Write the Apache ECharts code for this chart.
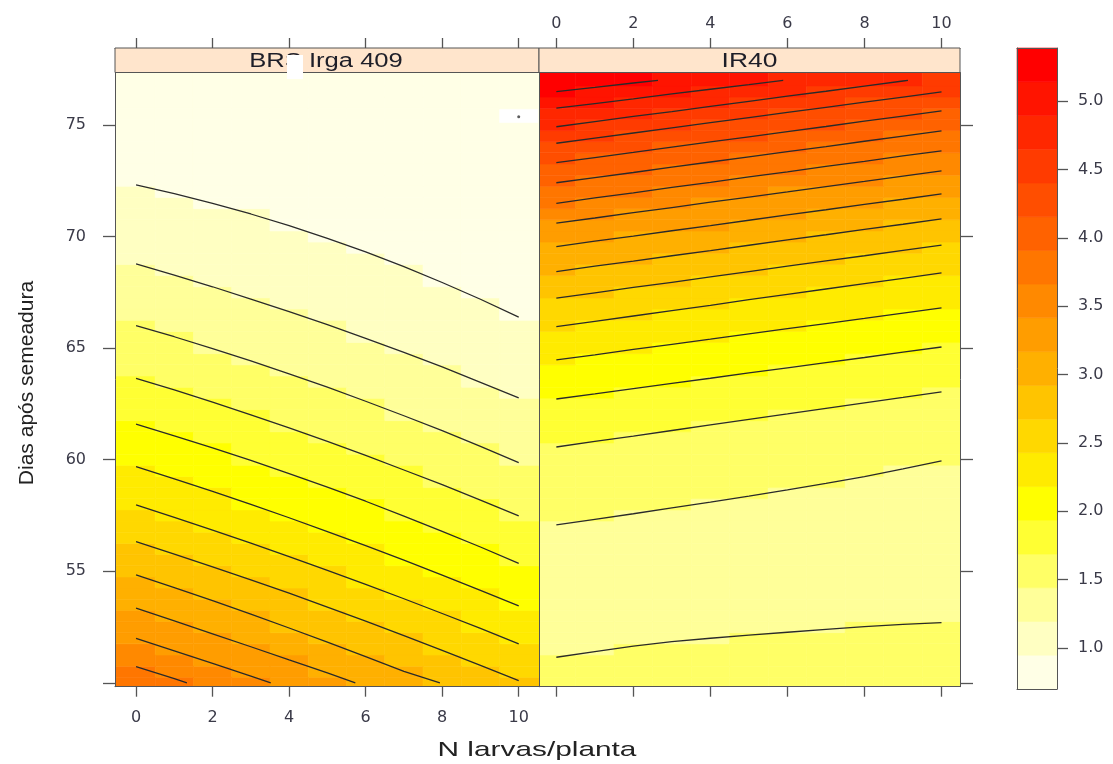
<!DOCTYPE html>
<html><head><meta charset="utf-8">
<script src="https://cdn.jsdelivr.net/npm/echarts@6/dist/echarts.min.js"></script>
<style>html,body{margin:0;padding:0;background:#fff}#c{width:1113px;height:764px}</style>
</head><body><div id="c"></div>
<script>
// ---------------- data ----------------
const panels = ['BRS Irga 409', 'IR40'];
const xTitle = 'N larvas/planta';
const yTitle = 'Dias após semeadura';
const xTicks = [0, 2, 4, 6, 8, 10];
const yTicks = [50, 55, 60, 65, 70, 75];
const yLabels = [55, 60, 65, 70, 75];
const zTicks = [1.0, 1.5, 2.0, 2.5, 3.0, 3.5, 4.0, 4.5, 5.0];
// colour-key breaks (19 bands)
const breaks = [0.700, 0.947, 1.194, 1.440, 1.687, 1.934, 2.181, 2.428, 2.674, 2.921,
                3.168, 3.415, 3.662, 3.908, 4.155, 4.402, 4.649, 4.896, 5.142, 5.389];
const bandColors = ['#FFFFE6', '#FFFFC2', '#FFFF99', '#FFFF66', '#FFFF33', '#FFFF00', '#FFEB00',
                    '#FFD800', '#FFC400', '#FFB000', '#FF9D00', '#FF8900', '#FF7600', '#FF6200',
                    '#FF4E00', '#FF3B00', '#FF2700', '#FF1400', '#FF0000'];
// grid of the level plot
const xCols = [0, 1, 2, 3, 4, 5, 6, 7, 8, 9, 10];
const yRows = [50, 50.5, 51, 51.5, 52, 52.5, 53, 53.5, 54, 54.5, 55, 55.5, 56, 56.5, 57, 57.5,
               58, 58.5, 59, 59.5, 60, 60.5, 61, 61.5, 62, 62.5, 63, 63.5, 64, 64.5, 65, 65.5,
               66, 66.5, 67, 67.5, 68, 68.5, 69, 69.5, 70, 70.5, 71, 71.5, 72, 72.5, 73, 73.5,
               74, 74.5, 75, 75.5, 76, 76.5, 77];
// estimated minimum value in each panel
const panelMin = [0.75, 1.30];
// contour lines (level, side of higher values, points)
const contoursBRS = [
  {level: 0.947, highAbove: false, pts: [[0,72.31],[1,71.92],[2,71.49],[3,71.01],[4,70.49],[5,69.92],[6,69.31],[7,68.65],[8,67.94],[9,67.19],[10,66.39]]},
  {level: 1.194, highAbove: false, pts: [[0,68.77],[1,68.27],[2,67.75],[3,67.20],[4,66.64],[5,66.05],[6,65.44],[7,64.81],[8,64.16],[9,63.47],[10,62.77]]},
  {level: 1.440, highAbove: false, pts: [[0,66.01],[1,65.51],[2,64.98],[3,64.43],[4,63.85],[5,63.25],[6,62.62],[7,61.97],[8,61.30],[9,60.60],[10,59.87]]},
  {level: 1.687, highAbove: false, pts: [[0,63.65],[1,63.13],[2,62.58],[3,62.01],[4,61.43],[5,60.82],[6,60.19],[7,59.54],[8,58.88],[9,58.19],[10,57.48]]},
  {level: 1.934, highAbove: false, pts: [[0,61.59],[1,61.07],[2,60.53],[3,59.97],[4,59.38],[5,58.77],[6,58.14],[7,57.47],[8,56.79],[9,56.09],[10,55.36]]},
  {level: 2.181, highAbove: false, pts: [[0,59.69],[1,59.14],[2,58.58],[3,58.00],[4,57.40],[5,56.78],[6,56.15],[7,55.50],[8,54.83],[9,54.15],[10,53.45]]},
  {level: 2.428, highAbove: false, pts: [[0,57.98],[1,57.42],[2,56.85],[3,56.26],[4,55.66],[5,55.04],[6,54.41],[7,53.77],[8,53.11],[9,52.44],[10,51.75]]},
  {level: 2.674, highAbove: false, pts: [[0,56.33],[1,55.77],[2,55.20],[3,54.62],[4,54.02],[5,53.40],[6,52.77],[7,52.12],[8,51.46],[9,50.79],[10,50.10]]},
  {level: 2.921, highAbove: false, pts: [[0,54.84],[1,54.27],[2,53.69],[3,53.08],[4,52.46],[5,51.83],[6,51.18],[7,50.52],[7.94,50.0]]},
  {level: 3.168, highAbove: false, pts: [[0,53.35],[1,52.78],[2,52.20],[3,51.62],[4,51.03],[5,50.45],[5.73,50.0]]},
  {level: 3.415, highAbove: false, pts: [[0,52.00],[1,51.44],[2,50.87],[3,50.30],[3.52,50.0]]},
  {level: 3.662, highAbove: false, pts: [[0,50.73],[1,50.19],[1.33,50.0]]}
];
const contoursIR40 = [
  {level: 5.142, highAbove: true, pts: [[0,76.49],[1,76.68],[2,76.88],[2.64,77.0]]},
  {level: 4.896, highAbove: true, pts: [[0,75.75],[1,75.96],[2,76.17],[3,76.39],[4,76.60],[5,76.81],[5.89,77.0]]},
  {level: 4.649, highAbove: true, pts: [[0,74.92],[1,75.15],[2,75.38],[3,75.60],[4,75.83],[5,76.06],[6,76.29],[7,76.51],[8,76.74],[9,76.97],[9.13,77.0]]},
  {level: 4.402, highAbove: true, pts: [[0,74.18],[1,74.41],[2,74.64],[3,74.87],[4,75.10],[5,75.33],[6,75.56],[7,75.79],[8,76.02],[9,76.25],[10,76.48]]},
  {level: 4.155, highAbove: true, pts: [[0,73.31],[1,73.54],[2,73.77],[3,74.01],[4,74.24],[5,74.47],[6,74.70],[7,74.93],[8,75.17],[9,75.40],[10,75.63]]},
  {level: 3.908, highAbove: true, pts: [[0,72.41],[1,72.64],[2,72.87],[3,73.11],[4,73.34],[5,73.57],[6,73.80],[7,74.03],[8,74.27],[9,74.50],[10,74.73]]},
  {level: 3.662, highAbove: true, pts: [[0,71.49],[1,71.73],[2,71.96],[3,72.20],[4,72.43],[5,72.67],[6,72.90],[7,73.14],[8,73.37],[9,73.61],[10,73.84]]},
  {level: 3.415, highAbove: true, pts: [[0,70.60],[1,70.83],[2,71.07],[3,71.30],[4,71.54],[5,71.77],[6,72.00],[7,72.24],[8,72.47],[9,72.71],[10,72.94]]},
  {level: 3.168, highAbove: true, pts: [[0,69.55],[1,69.79],[2,70.02],[3,70.26],[4,70.49],[5,70.73],[6,70.97],[7,71.20],[8,71.44],[9,71.67],[10,71.91]]},
  {level: 2.921, highAbove: true, pts: [[0,68.43],[1,68.67],[2,68.90],[3,69.14],[4,69.37],[5,69.61],[6,69.85],[7,70.08],[8,70.32],[9,70.55],[10,70.79]]},
  {level: 2.674, highAbove: true, pts: [[0,67.24],[1,67.48],[2,67.72],[3,67.95],[4,68.19],[5,68.43],[6,68.67],[7,68.91],[8,69.14],[9,69.38],[10,69.62]]},
  {level: 2.428, highAbove: true, pts: [[0,65.96],[1,66.20],[2,66.44],[3,66.68],[4,66.92],[5,67.17],[6,67.41],[7,67.65],[8,67.89],[9,68.13],[10,68.37]]},
  {level: 2.181, highAbove: true, pts: [[0,64.47],[1,64.70],[2,64.94],[3,65.17],[4,65.40],[5,65.64],[6,65.87],[7,66.10],[8,66.33],[9,66.57],[10,66.80]]},
  {level: 1.934, highAbove: true, pts: [[0,62.72],[1,62.95],[2,63.19],[3,63.42],[4,63.65],[5,63.89],[6,64.12],[7,64.35],[8,64.58],[9,64.82],[10,65.05]]},
  {level: 1.687, highAbove: true, pts: [[0,60.57],[1,60.82],[2,61.06],[3,61.31],[4,61.56],[5,61.81],[6,62.05],[7,62.30],[8,62.55],[9,62.79],[10,63.04]]},
  {level: 1.440, highAbove: true, pts: [[0,57.08],[1,57.33],[2,57.58],[3,57.84],[4,58.10],[5,58.37],[6,58.65],[7,58.94],[8,59.24],[9,59.59],[10,59.95]]},
  {level: 1.440, highAbove: false, pts: [[0,51.15],[1,51.40],[2,51.65],[3,51.85],[4,52.00],[5,52.14],[6,52.27],[7,52.40],[8,52.52],[9,52.62],[10,52.70]]}
];
// cell below the colour range (left panel) and its tiny contour
const blankCells = [[10, 75.11, 75.69]];
const blankDots = [[10, 75.37]];

// ---------------- layout / style ----------------
const Y_MIN = 49.83, Y_MAX = 77.35;
const xRanges = [[-0.55, 10.53], [-0.45, 10.48]];
const AX = '#555';
const LAB = {fontFamily: 'DejaVu Sans', fontSize: 16, color: '#3a3a48'};

function bandIndex(z) {
  let b = 0;
  for (let k = 0; k < breaks.length - 1; k++) if (z >= breaks[k] - 1e-9) b = k;
  return b;
}
function cellData(contours, minZ, xr) {
  const out = [];
  xCols.forEach((x, i) => {
    yRows.forEach((y, j) => {
      let z = minZ;
      contours.forEach(c => {
        const p = c.pts.find(q => q[0] === x);
        if (!p) return;
        const high = c.highAbove ? y > p[1] : y < p[1];
        if (high && c.level > z) z = c.level;
      });
      const x0 = i === 0 ? xr[0] : x - 0.5;
      const x1 = i === xCols.length - 1 ? xr[1] : x + 0.5;
      const y0 = j === 0 ? Y_MIN : y - 0.25;
      const y1 = j === yRows.length - 1 ? Y_MAX : y + 0.25;
      out.push([x, y, bandIndex(z), x0, x1, y0, y1]);
    });
  });
  return out;
}
function rectItem(api, x0, x1, y0, y1, fill) {
  const a = api.coord([x0, y1]);
  const b = api.coord([x1, y0]);
  return {type: 'rect', shape: {x: a[0], y: a[1], width: b[0] - a[0], height: b[1] - a[1]},
          style: {fill: fill, stroke: fill, lineWidth: 0.6}};
}
function axis(o) {
  return Object.assign({
    type: 'value', splitLine: {show: false}, z: 10,
    axisLine: {show: true, onZero: false, lineStyle: {color: AX, width: 1}},
    axisTick: {show: false}, axisLabel: {show: false}
  }, o);
}
function ticks(vals, len) {
  return {show: true, length: len, customValues: vals, lineStyle: {color: AX, width: 1.3}};
}

const grids = [
  {left: 115, top: 72.5, width: 424, height: 614.2},
  {left: 539, top: 72.5, width: 421, height: 614.2},
  {left: 1017, top: 48, width: 40, height: 641}
];
const xAxes = [
  axis({gridIndex: 0, position: 'bottom', min: xRanges[0][0], max: xRanges[0][1], axisTick: ticks(xTicks, 10),
        axisLabel: Object.assign({show: true, customValues: xTicks, margin: 23}, LAB)}),
  axis({gridIndex: 0, position: 'top', offset: 24.5, min: xRanges[0][0], max: xRanges[0][1], axisTick: ticks(xTicks, 10)}),
  axis({gridIndex: 1, position: 'bottom', min: xRanges[1][0], max: xRanges[1][1], axisTick: ticks(xTicks, 10)}),
  axis({gridIndex: 1, position: 'top', offset: 24.5, min: xRanges[1][0], max: xRanges[1][1], axisTick: ticks(xTicks, 10),
        axisLabel: Object.assign({show: true, customValues: xTicks, margin: 16}, LAB)}),
  axis({gridIndex: 2, position: 'bottom', min: 0, max: 1}),
  axis({gridIndex: 2, position: 'top', min: 0, max: 1})
];
const yAxes = [
  axis({gridIndex: 0, position: 'left', min: Y_MIN, max: Y_MAX, axisTick: ticks(yTicks, 12),
        axisLabel: Object.assign({show: true, customValues: yLabels, margin: 29}, LAB)}),
  axis({gridIndex: 0, position: 'right', min: Y_MIN, max: Y_MAX}),
  axis({gridIndex: 1, position: 'left', min: Y_MIN, max: Y_MAX}),
  axis({gridIndex: 1, position: 'right', min: Y_MIN, max: Y_MAX, axisTick: ticks(yTicks, 13)}),
  axis({gridIndex: 2, position: 'left', min: breaks[0], max: breaks[breaks.length - 1]}),
  axis({gridIndex: 2, position: 'right', min: breaks[0], max: breaks[breaks.length - 1], axisTick: ticks(zTicks, 11),
        axisLabel: Object.assign({show: true, customValues: zTicks, margin: 21,
                                  formatter: v => Number(v).toFixed(1)}, LAB)})
];

const series = [];
[[contoursBRS, 0], [contoursIR40, 1]].forEach(([cs, p]) => {
  series.push({
    type: 'custom', xAxisIndex: p * 2, yAxisIndex: p * 2, clip: true, silent: true, z: 1,
    data: cellData(cs, panelMin[p], xRanges[p]),
    encode: {x: 0, y: 1},
    renderItem: (params, api) => rectItem(api, api.value(3), api.value(4), api.value(5), api.value(6),
                                          bandColors[api.value(2)])
  });
  cs.forEach(c => series.push({
    type: 'line', xAxisIndex: p * 2, yAxisIndex: p * 2, data: c.pts, showSymbol: false, silent: true,
    z: 3, clip: true, lineStyle: {color: '#2a2a2a', width: 1.3}
  }));
});
series.push({
  type: 'custom', xAxisIndex: 0, yAxisIndex: 0, silent: true, z: 2, data: blankCells,
  renderItem: (params, api) => rectItem(api, api.value(0) - 0.5, api.value(0) + 0.5, api.value(1), api.value(2), '#FFFFFF')
});
series.push({
  type: 'scatter', xAxisIndex: 0, yAxisIndex: 0, silent: true, z: 4, data: blankDots,
  symbolSize: 3, itemStyle: {color: '#333'}
});
series.push({
  type: 'custom', xAxisIndex: 4, yAxisIndex: 4, silent: true, z: 1,
  data: bandColors.map((c, k) => [k, breaks[k], breaks[k + 1]]),
  renderItem: (params, api) => rectItem(api, 0, 1, api.value(1), api.value(2), bandColors[api.value(0)])
});

const graphic = [
  {type: 'rect', z: 20, shape: {x: 115, y: 48, width: 424, height: 24.5},
   style: {fill: '#FFE5CC', stroke: AX, lineWidth: 1}},
  {type: 'rect', z: 20, shape: {x: 539, y: 48, width: 421, height: 24.5},
   style: {fill: '#FFE5CC', stroke: AX, lineWidth: 1}},
  {type: 'text', z: 21, x: 326, y: 61, scaleX: 1.28,
   style: {text: panels[0], align: 'center', verticalAlign: 'middle', fontFamily: 'Liberation Sans', fontSize: 20, fill: '#1e1e28'}},
  {type: 'text', z: 21, x: 749.5, y: 61, scaleX: 1.32,
   style: {text: panels[1], align: 'center', verticalAlign: 'middle', fontFamily: 'Liberation Sans', fontSize: 20, fill: '#1e1e28'}},
  {type: 'rect', z: 22, shape: {x: 287, y: 55, width: 16, height: 24}, style: {fill: '#FFFFFF'}},
  {type: 'text', z: 21, x: 537, y: 750, scaleX: 1.42,
   style: {text: xTitle, align: 'center', verticalAlign: 'middle', fontFamily: 'Liberation Sans', fontSize: 21, fill: '#222'}},
  {type: 'text', z: 21, x: 27, y: 383, rotation: Math.PI / 2,
   style: {text: yTitle, align: 'center', verticalAlign: 'middle', fontFamily: 'Liberation Sans Narrow, Liberation Sans', fontSize: 21, fill: '#222'}}
];

const chart = echarts.init(document.getElementById('c'), null, {renderer: 'canvas'});
chart.setOption({
  animation: false,
  backgroundColor: '#ffffff',
  grid: grids,
  xAxis: xAxes,
  yAxis: yAxes,
  series: series,
  graphic: graphic
});
</script>
</body></html>
